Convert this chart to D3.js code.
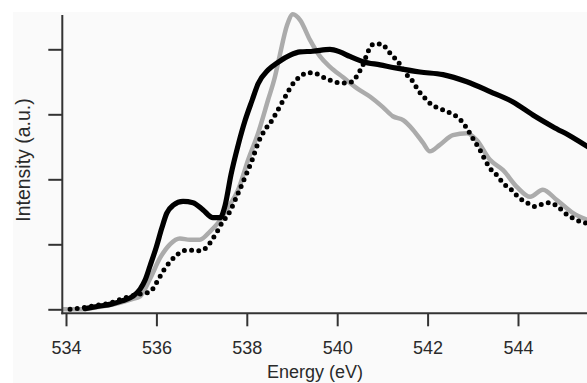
<!DOCTYPE html>
<html>
<head>
<meta charset="utf-8">
<script src="https://cdn.jsdelivr.net/npm/d3@7"></script>
<style>
  html, body { margin: 0; padding: 0; background: #ffffff; }
  svg { display: block; }
  text { font-family: "Liberation Sans", Arial, Helvetica, sans-serif; fill: #2a2a2a; }
</style>
</head>
<body>
<svg id="chart" width="587" height="383"></svg>
<script>
// X tick labels (energy in eV)
const xTicks = [534, 536, 538, 540, 542, 544];
const yTicks = [0, 1, 2, 3, 4];

// Series 1: black solid
const blackE = [534.42,534.75,535.00,535.24,535.48,535.64,535.75,535.86,535.99,536.12,536.23,536.37,536.59,536.81,537.03,537.25,537.41,537.52,537.65,537.81,537.96,538.12,538.25,538.47,538.69,538.96,539.18,539.46,539.84,540.06,540.28,540.57,540.95,541.32,541.83,542.34,542.87,543.38,543.89,544.33,544.77,545.22,545.59];
const blackV = [0.01,0.05,0.08,0.13,0.20,0.31,0.45,0.67,0.94,1.25,1.48,1.60,1.66,1.64,1.53,1.41,1.41,1.60,2.07,2.53,2.90,3.22,3.47,3.68,3.80,3.91,3.96,3.97,4.00,3.96,3.89,3.81,3.76,3.71,3.65,3.61,3.50,3.35,3.19,2.99,2.81,2.64,2.48];

// Series 2: gray solid
const grayE = [533.91,534.31,534.75,535.19,535.48,535.64,535.86,536.08,536.30,536.52,536.74,536.96,537.19,537.41,537.58,537.81,538.03,538.25,538.47,538.62,538.73,538.89,539.02,539.18,539.40,539.62,539.84,540.13,540.44,540.73,541.01,541.23,541.46,541.68,541.90,542.05,542.27,542.56,542.87,543.09,543.38,543.67,543.98,544.27,544.55,544.86,545.22,545.59];
const grayV = [0.00,0.00,0.04,0.10,0.16,0.20,0.47,0.79,1.00,1.09,1.07,1.07,1.20,1.37,1.56,1.84,2.30,2.71,3.22,3.57,3.91,4.37,4.54,4.45,4.14,3.89,3.73,3.57,3.40,3.27,3.11,2.97,2.91,2.76,2.56,2.43,2.53,2.68,2.71,2.60,2.30,2.14,1.88,1.73,1.84,1.68,1.48,1.36];

// Series 3: black dotted
const dotE = [534.09,534.42,534.75,535.00,535.24,535.48,535.68,535.86,536.01,536.15,536.30,536.46,536.59,536.79,536.96,537.12,537.23,537.34,537.45,537.58,537.81,537.96,538.12,538.25,538.40,538.56,538.69,538.85,539.00,539.22,539.33,539.46,539.66,539.82,539.99,540.17,540.33,540.46,540.57,540.68,540.81,540.99,541.12,541.28,541.43,541.54,541.68,541.79,541.94,542.10,542.27,542.43,542.61,542.76,542.89,543.00,543.16,543.27,543.38,543.54,543.67,543.87,544.00,544.20,544.38,544.55,544.71,544.88,545.04,545.22,545.42,545.59];
const dotV = [0.00,0.03,0.07,0.10,0.16,0.21,0.24,0.27,0.42,0.59,0.73,0.84,0.90,0.91,0.90,0.96,1.07,1.19,1.33,1.45,1.79,2.03,2.30,2.56,2.76,2.91,3.07,3.27,3.45,3.60,3.64,3.64,3.58,3.53,3.49,3.48,3.50,3.62,3.76,3.96,4.08,4.08,3.98,3.86,3.73,3.61,3.50,3.37,3.25,3.14,3.09,3.04,2.98,2.89,2.76,2.63,2.45,2.30,2.17,2.06,1.94,1.83,1.73,1.64,1.58,1.62,1.64,1.58,1.48,1.40,1.34,1.32];

const xLabel = "Energy (eV)";
const yLabel = "Intensity (a.u.)";

const W = 587, H = 383;
const axisX = 62.3, axisY = 313.3, axisTop = 15;

const svg = d3.select("#chart");

// faint panel background
svg.append("rect").attr("x", 13).attr("y", 12).attr("width", W - 13).attr("height", H - 12)
  .attr("fill", "#fafafa");

const x = d3.scaleLinear().domain([534, 544]).range([66, 518]);
const y = d3.scaleLinear().domain([0, 4]).range([309.3, 49.3]);

svg.append("defs").append("clipPath").attr("id", "plotclip")
  .append("rect").attr("x", axisX).attr("y", 0).attr("width", W - axisX).attr("height", axisY);

const line = d3.line().x(d => x(d[0])).y(d => y(d[1])).curve(d3.curveMonotoneX);
const zip = (a, b) => a.map((v, i) => [v, b[i]]);

const g = svg.append("g").attr("clip-path", "url(#plotclip)");

g.append("path").datum(zip(grayE, grayV)).attr("d", line)
  .attr("fill", "none").attr("stroke", "#ababab").attr("stroke-width", 4.5)
  .attr("stroke-linejoin", "round").attr("stroke-linecap", "round");

g.append("path").datum(zip(blackE, blackV)).attr("d", line)
  .attr("fill", "none").attr("stroke", "#000").attr("stroke-width", 5.2)
  .attr("stroke-linejoin", "round").attr("stroke-linecap", "round");

g.append("path").datum(zip(dotE, dotV)).attr("d", line)
  .attr("fill", "none").attr("stroke", "#000").attr("stroke-width", 5)
  .attr("stroke-dasharray", "0,7.2").attr("stroke-linecap", "round");

// Axes
const xAxis = d3.axisBottom(x).tickValues(xTicks).tickSize(13).tickPadding(15).tickFormat(d3.format("d"));
const gx = svg.append("g").attr("transform", `translate(0,${axisY})`).call(xAxis);
gx.select(".domain").remove();
gx.append("line").attr("x1", axisX - 1).attr("x2", W).attr("y1", 0).attr("y2", 0)
  .attr("stroke", "#333").attr("stroke-width", 2);
gx.selectAll(".tick line").attr("stroke", "#333").attr("stroke-width", 2);
gx.selectAll(".tick text").style("font-size", "18px").attr("fill", "#2a2a2a")
  .style("font-family", "'Liberation Sans', Arial, sans-serif");

const yAxis = d3.axisLeft(y).tickValues(yTicks).tickSize(14).tickFormat("");
const gy = svg.append("g").attr("transform", `translate(${axisX},0)`).call(yAxis);
gy.select(".domain").remove();
gy.append("line").attr("x1", 0).attr("x2", 0).attr("y1", axisTop).attr("y2", axisY + 1)
  .attr("stroke", "#333").attr("stroke-width", 2);
gy.selectAll(".tick line").attr("stroke", "#333").attr("stroke-width", 2);

svg.append("text").attr("x", 315).attr("y", 378).attr("text-anchor", "middle")
  .style("font-size", "18px").text(xLabel);

svg.append("text").attr("transform", "translate(30,160) rotate(-90)").attr("text-anchor", "middle")
  .style("font-size", "19.5px").text(yLabel);
</script>
</body>
</html>
